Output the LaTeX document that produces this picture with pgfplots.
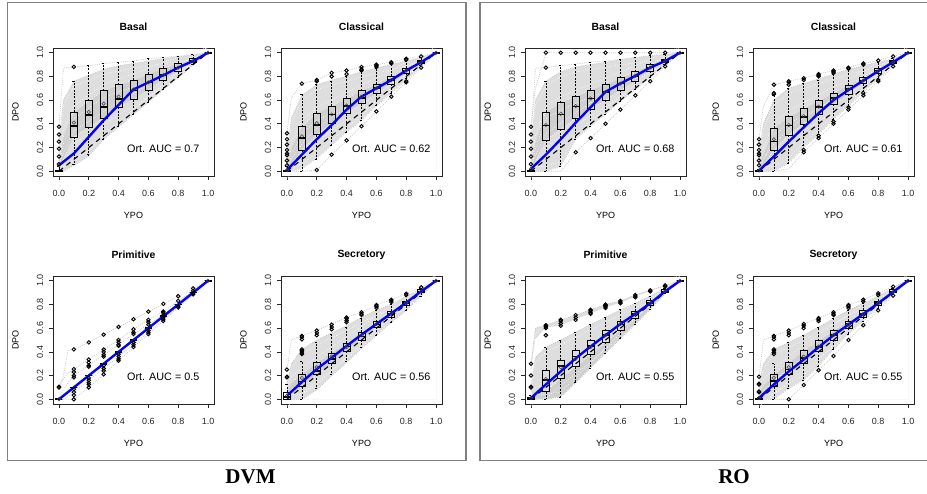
\documentclass[border=0pt]{standalone}
\usepackage{fontspec}
\setmainfont{Liberation Sans}
\newfontfamily\serifb{Liberation Serif}
\usepackage{pgfplots}
\usepackage{pgfplotstable}
\pgfplotsset{compat=1.18}
\usepgfplotslibrary{statistics}
\definecolor{corein}{gray}{0.81}
\definecolor{coreout}{gray}{0.87}
\definecolor{dotgray}{gray}{0.78}
\definecolor{framegray}{gray}{0.5}
\definecolor{rblue}{rgb}{0.02,0.02,0.92}
\newcommand\tf{\fontsize{9}{9}\selectfont}
\pgfplotsset{panel/.style={
  scale only axis,width=161pt,height=128pt,anchor=south west,clip=false,
  xmin=-0.04,xmax=1.04,ymin=-0.04,ymax=1.04,
  xtick={0,0.2,0.4,0.6,0.8,1},ytick={0,0.2,0.4,0.6,0.8,1},
  tick align=outside,xtick pos=bottom,ytick pos=left,
  major tick length=4pt,
  axis line style={line width=0.9pt,black!85},
  every tick/.style={line width=0.7pt,black!85},
  /pgf/number format/assume math mode=true,
  /pgf/number format/fixed,/pgf/number format/fixed zerofill,/pgf/number format/precision=1,
  tick label style={font=\tf,black!85},
  xticklabel style={anchor=center,yshift=-13pt},
  yticklabel style={rotate=90,anchor=center,yshift=9pt},
}}
\newcommand\bx[7]{\addplot[black,line width=0.65pt,mark=o,mark size=1.75pt,mark options={solid,line width=0.9pt},
  boxplot prepared={draw direction=y,box extend=0.047,whisker extend=0.022,
  every whisker/.style={dash pattern=on 2pt off 1.4pt,line width=0.7pt},
  every median/.style={line width=1.6pt},
  draw position=#1,lower whisker=#2,lower quartile=#3,median=#4,upper quartile=#5,upper whisker=#6}]
  coordinates {#7};}
\newcommand\core[1]{%
  \addplot[fill=coreout,draw=none,forget plot] table[x=x,y=b]{#1} \closedcycle;
  \addplot[fill=corein,draw=none,forget plot] table[x=x,y=c]{#1} \closedcycle;
  \addplot[fill=coreout,draw=none,forget plot] table[x=x,y=d]{#1} \closedcycle;
  \addplot[fill=white,draw=white,line width=0.8pt,forget plot] table[x=x,y=e]{#1} \closedcycle;}
\newcommand\coreG[1]{%
  \addplot[fill=coreout,draw=none,forget plot] table[x=x,y=a]{#1} \closedcycle;
  \addplot[fill=white,draw=white,line width=0.8pt,forget plot] table[x=x,y=c]{#1} \closedcycle;
  \addplot[fill=coreout,draw=none,forget plot] table[x=x,y=b]{#1} \closedcycle;
  \addplot[fill=corein,draw=none,forget plot] table[x=x,y=d]{#1} \closedcycle;
  \addplot[fill=white,draw=white,line width=0.8pt,forget plot] table[x=x,y=e]{#1} \closedcycle;}
\newcommand\spk[3]{\addplot[white,line width=0.55pt,dash pattern=on 0.8pt off 1.7pt,yshift=#3] table[x=x,y=#2]{#1};}
\newcommand\curves[1]{%
  \addplot[dotgray,line width=0.7pt,dash pattern=on 1pt off 1.2pt] table[x=x,y=a]{#1};
  \addplot[dotgray,line width=0.7pt,dash pattern=on 1pt off 1.2pt] table[x=x,y=b]{#1};
  \addplot[dotgray,line width=0.7pt,dash pattern=on 1pt off 1.2pt] table[x=x,y=e]{#1};
  \addplot[dotgray,line width=0.7pt,dash pattern=on 1pt off 1.2pt] table[x=x,y=f]{#1};
  \spk{#1}{b}{-5pt}\spk{#1}{c}{6pt}\spk{#1}{c}{0pt}\spk{#1}{c}{-7pt}\spk{#1}{d}{6pt}\spk{#1}{d}{0pt}\spk{#1}{d}{-7pt}\spk{#1}{e}{5pt}}
\newcommand\curvesC[1]{%
  \addplot[dotgray,line width=0.7pt,dash pattern=on 1pt off 1.2pt] table[x=x,y=a]{#1};
  \addplot[dotgray,line width=0.7pt,dash pattern=on 1pt off 1.2pt] table[x=x,y=b]{#1};
  \addplot[dotgray,line width=0.7pt,dash pattern=on 1pt off 1.2pt] table[x=x,y=c]{#1};
  \addplot[dotgray,line width=0.7pt,dash pattern=on 1pt off 1.2pt] table[x=x,y=d]{#1};
  \addplot[dotgray,line width=0.7pt,dash pattern=on 1pt off 1.2pt] table[x=x,y=e]{#1};
  \addplot[dotgray,line width=0.7pt,dash pattern=on 1pt off 1.2pt] table[x=x,y=f]{#1};}
\newcommand\finish[2]{%
  \addplot[black,line width=1.1pt,dash pattern=on 5pt off 4.5pt] coordinates {(0,0) (1,1)};
  \addplot[rblue,line width=2.4pt,line join=round] coordinates {#1};
  \addplot[only marks,mark=o,mark size=1.7pt,draw=black!75,mark options={line width=0.5pt}] coordinates {#2};}
\newcommand\labels[2]{%
  \node[font=\fontsize{10.4}{10.4}\selectfont\bfseries] at (rel axis cs:0.5,1.166) {#1};
  \node[font=\tf] at (rel axis cs:0.5,-0.305) {YPO};
  \node[font=\tf,rotate=90] at (rel axis cs:-0.232,0.5) {DPO};
  \node[font=\fontsize{10.8}{10.8}\selectfont] at (rel axis cs:0.685,0.215) {Ort. AUC = #2};}

\pgfplotstableread{
x a b c d e f
0 .375 .25 .06 0 0 0
.03 .87 .6 .3 .1 0 0
.1 .88 .76 .50 .29 .05 .05
.2 .89 .81 .595 .37 .13 .13
.3 .91 .86 .68 .45 .27 .27
.4 .92 .89 .73 .54 .375 .375
.5 .93 .91 .77 .605 .48 .48
.6 .95 .93 .82 .685 .585 .585
.7 .96 .95 .87 .77 .69 .69
.8 .97 .965 .91 .84 .79 .79
.9 .985 .98 .95 .92 .90 .90
1 1 1 1 1 1 1
}\tA
\pgfplotstableread{
x a b c d e f
0 .32 .15 .04 0 0 0
.03 .62 .45 .2 .05 0 0
.1 .74 .64 .375 .18 .02 0
.2 .77 .73 .49 .31 .11 .01
.3 .83 .77 .55 .405 .22 .14
.4 .85 .80 .615 .485 .33 .26
.5 .88 .84 .68 .57 .43 .38
.6 .90 .87 .735 .655 .55 .505
.7 .92 .90 .80 .735 .66 .63
.8 .95 .93 .87 .825 .77 .75
.9 .97 .96 .94 .91 .88 .875
1 1 1 1 1 1 1
}\tB
\pgfplotstableread{
x a b c d e f
0 .10 .10 0 0 0 0
.03 .20 .17 .08 .02 0 0
.06 .41 .22 .14 .05 .02 0
.1 .42 .255 .20 .10 .06 0
.2 .48 .335 .285 .20 .16 .10
.3 .545 .42 .375 .30 .26 .21
.4 .61 .50 .46 .40 .36 .325
.5 .675 .59 .55 .50 .46 .44
.6 .74 .67 .63 .60 .565 .55
.7 .805 .74 .71 .69 .675 .66
.8 .87 .83 .80 .785 .785 .775
.9 .935 .915 .895 .885 .885 .885
1 1 1 1 1 1 1
}\tC
\pgfplotstableread{
x a b c d e f
0 .25 .13 .06 0 0 0
.03 .50 .30 .14 .03 0 0
.1 .535 .42 .21 .105 0 0
.2 .58 .50 .31 .21 .08 .08
.3 .635 .56 .39 .30 .20 .20
.4 .69 .62 .475 .405 .31 .31
.5 .735 .69 .565 .50 .43 .43
.6 .795 .75 .655 .61 .54 .54
.7 .84 .80 .745 .69 .65 .65
.8 .89 .87 .83 .79 .75 .75
.9 .945 .93 .925 .90 .87 .87
1 1 1 1 1 1 1
}\tD
\pgfplotstableread{
x a b c d e f
0 .375 .2 .06 0 0 0
.03 .70 .60 .25 .08 0 0
.1 1 .76 .50 .265 0 0
.2 1 .84 .58 .355 .04 0
.3 1 .88 .63 .445 .27 .16
.4 1 .90 .685 .525 .38 .28
.5 1 .92 .735 .60 .48 .40
.6 1 .94 .79 .685 .59 .52
.7 1 .955 .84 .755 .69 .64
.8 1 .97 .90 .845 .79 .76
.9 1 .98 .945 .92 .90 .885
1 1 1 1 1 1 1
}\tE
\pgfplotstableread{
x a b c d e f
0 .27 .15 .05 0 0 0
.03 .55 .40 .15 .05 0 0
.1 .73 .60 .365 .18 0 0
.2 .76 .70 .46 .305 .07 .02
.3 .785 .74 .53 .40 .2 .16
.4 .82 .78 .595 .48 .31 .28
.5 .85 .82 .66 .565 .44 .40
.6 .875 .86 .725 .65 .55 .52
.7 .91 .89 .79 .74 .67 .64
.8 .935 .92 .87 .825 .78 .76
.9 .97 .95 .935 .91 .90 .885
1 1 1 1 1 1 1
}\tF
\pgfplotstableread{
x a b c d e f
0 .30 .10 .20 0 0 0
.03 .60 .35 .50 .05 0 0
.1 .625 .44 .60 .065 0 0
.2 .67 .50 .62 .175 .02 .02
.3 .71 .565 .67 .275 .14 .14
.4 .755 .63 .72 .375 .265 .265
.5 .80 .69 .77 .48 .39 .39
.6 .83 .755 .81 .585 .51 .51
.7 .88 .81 .86 .685 .635 .635
.8 .92 .87 .91 .79 .76 .76
.9 .96 .94 .95 .90 .89 .89
1 1 1 1 1 1 1
}\tG
\pgfplotstableread{
x a b c d e f
0 .19 .12 .06 0 0 0
.03 .50 .30 .12 .03 0 0
.1 .535 .42 .21 .105 0 0
.2 .58 .48 .31 .21 .09 0
.3 .635 .54 .41 .30 .16 .12
.4 .685 .61 .495 .405 .28 .245
.5 .735 .68 .58 .50 .42 .365
.6 .795 .75 .66 .60 .55 .50
.7 .84 .81 .75 .69 .66 .625
.8 .895 .87 .83 .79 .77 .75
.9 .95 .94 .93 .90 .89 .875
1 1 1 1 1 1 1
}\tH

\begin{document}
\begin{tikzpicture}
\path[use as bounding box] (0pt,0pt) rectangle (927pt,493pt);
\draw[framegray,line width=1.5pt] (7.5pt,490.5pt) -- (466pt,490.5pt) -- (466pt,32.5pt) -- (7.5pt,32.5pt) -- cycle;
\draw[framegray,line width=1.5pt] (927pt,490.5pt) -- (480pt,490.5pt) -- (480pt,32.5pt) -- (927pt,32.5pt);
\node[font=\serifb\bfseries\fontsize{21}{21}\selectfont] at (250.5pt,16.5pt) {DVM};
\node[font=\serifb\bfseries\fontsize{21}{21}\selectfont] at (734pt,16.5pt) {RO};

% DVM Basal
\begin{axis}[panel,at={(53pt,317pt)}]
\core{\tA}\curves{\tA}
\bx{0}{0}{0}{0}{.01}{.04}{(0,.06)(0,.125)(0,.19)(0,.25)(0,.31)(0,.375)}
\bx{.1}{.06}{.29}{.38}{.50}{.76}{(0,.88)}
\bx{.2}{.14}{.37}{.475}{.595}{.89}{}
\bx{.3}{.27}{.45}{.54}{.68}{.91}{}
\bx{.4}{.375}{.54}{.61}{.73}{.92}{}
\bx{.5}{.48}{.605}{.68}{.77}{.93}{}
\bx{.6}{.585}{.685}{.75}{.82}{.95}{}
\bx{.7}{.69}{.77}{.81}{.87}{.96}{}
\bx{.8}{.79}{.84}{.875}{.91}{.97}{}
\bx{.9}{.90}{.92}{.93}{.95}{.985}{}
\bx{1}{1}{1}{1}{1}{1}{}
\finish{(0,.05)(.1,.15)(.2,.29)(.3,.43)(.4,.56)(.5,.69)(.6,.75)(.7,.81)(.8,.875)(.9,.93)(1,1)}
{(0,.05)(.1,.41)(.2,.50)(.3,.57)(.4,.63)(.5,.69)(.6,.75)(.7,.81)(.8,.875)(.9,.93)(1,1)}
\labels{Basal}{0.7}
\end{axis}

% DVM Classical
\begin{axis}[panel,at={(281pt,317pt)}]
\core{\tB}\curves{\tB}
\bx{0}{0}{0}{0}{.01}{.04}{(0,.05)(0,.09)(0,.135)(0,.15)(0,.18)(0,.225)(0,.27)(0,.32)}
\bx{.1}{0}{.18}{.28}{.375}{.65}{(0,.74)}
\bx{.2}{.10}{.31}{.39}{.49}{.73}{(0,.01)(0,.76)(0,.77)}
\bx{.3}{.22}{.405}{.48}{.55}{.755}{(0,.14)(0,.80)(0,.83)}
\bx{.4}{.33}{.485}{.55}{.615}{.80}{(0,.26)(0,.82)(0,.85)}
\bx{.5}{.43}{.57}{.62}{.68}{.84}{(0,.38)(0,.85)(0,.86)(0,.88)}
\bx{.6}{.56}{.655}{.70}{.735}{.87}{(0,.505)(0,.88)(0,.89)(0,.90)}
\bx{.7}{.66}{.735}{.77}{.80}{.90}{(0,.63)(0,.91)(0,.92)}
\bx{.8}{.78}{.825}{.85}{.87}{.93}{(0,.75)(0,.76)(0,.94)(0,.95)}
\bx{.9}{.89}{.91}{.925}{.94}{.96}{(0,.875)(0,.97)}
\bx{1}{1}{1}{1}{1}{1}{}
\finish{(0,.01)(.1,.14)(.2,.27)(.3,.39)(.4,.52)(.5,.63)(.6,.70)(.7,.77)(.8,.85)(.9,.92)(1,1)}
{(0,.01)(.1,.295)(.2,.405)(.3,.48)(.4,.555)(.5,.63)(.6,.70)(.7,.77)(.8,.85)(.9,.92)(1,1)}
\labels{Classical}{0.62}
\end{axis}

% DVM Primitive
\begin{axis}[panel,at={(53pt,89pt)}]
\curvesC{\tC}
\bx{0}{0}{0}{0}{0}{0}{(0,.10)(0,.105)}
\bx{.1}{.10}{.10}{.10}{.10}{.10}{(0,.42)(0,.255)(0,.23)(0,.20)(0,.185)(0,.085)(0,.06)(0,.035)(0,0)}
\bx{.2}{.2}{.2}{.2}{.2}{.2}{(0,.48)(0,.335)(0,.31)(0,.285)(0,.275)(0,.18)(0,.16)(0,.14)(0,.125)(0,.10)}
\bx{.3}{.3}{.3}{.3}{.3}{.3}{(0,.545)(0,.42)(0,.40)(0,.375)(0,.36)(0,.285)(0,.26)(0,.24)(0,.21)}
\bx{.4}{.4}{.4}{.4}{.4}{.4}{(0,.61)(0,.50)(0,.48)(0,.46)(0,.45)(0,.38)(0,.36)(0,.34)(0,.325)}
\bx{.5}{.5}{.5}{.5}{.5}{.5}{(0,.675)(0,.59)(0,.565)(0,.55)(0,.48)(0,.46)(0,.44)}
\bx{.6}{.6}{.6}{.6}{.6}{.6}{(0,.74)(0,.67)(0,.65)(0,.63)(0,.58)(0,.565)(0,.55)}
\bx{.7}{.7}{.7}{.7}{.7}{.7}{(0,.805)(0,.74)(0,.73)(0,.71)(0,.69)(0,.675)(0,.66)}
\bx{.8}{.8}{.8}{.8}{.8}{.8}{(0,.87)(0,.83)(0,.785)(0,.775)}
\bx{.9}{.9}{.9}{.9}{.9}{.9}{(0,.935)(0,.915)(0,.895)(0,.885)}
\bx{1}{1}{1}{1}{1}{1}{}
\finish{(0,0)(.1,.10)(.2,.20)(.3,.30)(.4,.40)(.5,.50)(.6,.60)(.7,.70)(.8,.80)(.9,.90)(1,1)}
{(0,0)(1,1)}
\labels{Primitive}{0.5}
\end{axis}

% DVM Secretory
\begin{axis}[panel,at={(281pt,89pt)}]
\core{\tD}\curves{\tD}
\bx{0}{0}{0}{.02}{.06}{.13}{(0,.185)(0,.19)(0,.25)}
\bx{.1}{0}{.105}{.15}{.21}{.32}{(0,.38)(0,.39)(0,.40)(0,.41)(0,.42)(0,.505)(0,.525)(0,.535)}
\bx{.2}{.09}{.21}{.24}{.31}{.48}{(0,.54)(0,.56)(0,.58)}
\bx{.3}{.21}{.30}{.34}{.39}{.545}{(0,.59)(0,.61)(0,.63)}
\bx{.4}{.32}{.405}{.445}{.475}{.61}{(0,.65)(0,.665)(0,.68)(0,.69)}
\bx{.5}{.44}{.50}{.53}{.565}{.68}{(0,.71)(0,.72)(0,.735)}
\bx{.6}{.54}{.61}{.63}{.655}{.75}{(0,.77)(0,.785)(0,.795)}
\bx{.7}{.65}{.69}{.72}{.745}{.80}{(0,.82)(0,.83)(0,.84)}
\bx{.8}{.75}{.79}{.81}{.83}{.87}{(0,.88)(0,.89)}
\bx{.9}{.87}{.90}{.91}{.925}{.94}{(0,.945)}
\bx{1}{1}{1}{1}{1}{1}{}
\finish{(0,.03)(.1,.145)(.2,.255)(.3,.35)(.4,.45)(.5,.545)(.6,.635)(.7,.725)(.8,.815)(.9,.91)(1,1)}
{(0,.03)(.1,.18)(.2,.27)(.3,.36)(.4,.44)(.5,.54)(.6,.635)(.7,.725)(.8,.815)(.9,.91)(1,1)}
\labels{Secretory}{0.56}
\end{axis}

% RO Basal
\begin{axis}[panel,at={(525pt,317pt)}]
\core{\tE}\curves{\tE}
\addplot[dotgray,line width=0.7pt,dash pattern=on 1pt off 1.2pt] coordinates {(0,.30)(.03,.87)(.1,.875)(.2,.89)(.3,.905)(.4,.92)(.5,.93)(.6,.945)(.7,.96)(.8,.975)(.9,.985)(1,1)};
\bx{0}{0}{0}{0}{.01}{.02}{(0,.06)(0,.125)(0,.19)(0,.25)(0,.31)(0,.375)}
\bx{.1}{0}{.265}{.385}{.50}{.76}{(0,.875)(0,1)}
\bx{.2}{.04}{.355}{.48}{.58}{.89}{(0,1)}
\bx{.3}{.27}{.445}{.545}{.63}{.905}{(0,.16)(0,1)}
\bx{.4}{.38}{.525}{.615}{.685}{.92}{(0,.28)(0,1)}
\bx{.5}{.48}{.60}{.67}{.735}{.93}{(0,.40)(0,1)}
\bx{.6}{.59}{.685}{.74}{.79}{.945}{(0,.52)(0,1)}
\bx{.7}{.69}{.755}{.80}{.84}{.96}{(0,.64)(0,1)}
\bx{.8}{.79}{.845}{.875}{.90}{.975}{(0,.76)(0,1)}
\bx{.9}{.90}{.92}{.93}{.945}{.985}{(0,.885)(0,1)}
\bx{1}{1}{1}{1}{1}{1}{}
\finish{(0,.02)(.1,.14)(.2,.27)(.3,.41)(.4,.54)(.5,.67)(.6,.74)(.7,.805)(.8,.875)(.9,.93)(1,1)}
{(0,.02)(.1,.39)(.2,.485)(.3,.55)(.4,.615)(.5,.67)(.6,.74)(.7,.805)(.8,.875)(.9,.93)(1,1)}
\labels{Basal}{0.68}
\end{axis}

% RO Classical
\begin{axis}[panel,at={(753pt,317pt)}]
\core{\tF}\curves{\tF}
\bx{0}{0}{0}{0}{.01}{.02}{(0,.05)(0,.09)(0,.135)(0,.15)(0,.18)(0,.225)(0,.27)}
\bx{.1}{0}{.18}{.25}{.365}{.64}{(0,.65)(0,.66)(0,.73)}
\bx{.2}{.07}{.305}{.385}{.46}{.70}{(0,.73)(0,.75)(0,.76)}
\bx{.3}{.22}{.40}{.46}{.53}{.74}{(0,.16)(0,.18)(0,.77)(0,.785)}
\bx{.4}{.31}{.48}{.54}{.595}{.77}{(0,.28)(0,.30)(0,.80)(0,.81)(0,.82)}
\bx{.5}{.44}{.565}{.62}{.66}{.82}{(0,.40)(0,.42)(0,.83)(0,.84)(0,.85)}
\bx{.6}{.55}{.65}{.695}{.725}{.86}{(0,.52)(0,.54)(0,.865)(0,.875)}
\bx{.7}{.67}{.74}{.765}{.79}{.89}{(0,.64)(0,.66)(0,.90)(0,.91)}
\bx{.8}{.78}{.825}{.85}{.87}{.92}{(0,.76)(0,.77)(0,.935)}
\bx{.9}{.90}{.91}{.92}{.935}{.95}{(0,.885)(0,.97)}
\bx{1}{1}{1}{1}{1}{1}{}
\finish{(0,.005)(.1,.125)(.2,.25)(.3,.37)(.4,.49)(.5,.60)(.6,.685)(.7,.765)(.8,.845)(.9,.92)(1,1)}
{(0,.005)(.1,.27)(.2,.39)(.3,.465)(.4,.545)(.5,.61)(.6,.69)(.7,.765)(.8,.845)(.9,.92)(1,1)}
\labels{Classical}{0.61}
\end{axis}

% RO Primitive
\begin{axis}[panel,at={(525pt,89pt)}]
\coreG{\tG}\curves{\tG}
\bx{0}{0}{0}{0}{.02}{.03}{(0,.10)(0,.105)(0,.20)(0,.30)}
\bx{.1}{0}{.065}{.165}{.245}{.435}{(0,.54)(0,.60)(0,.61)(0,.62)(0,.625)}
\bx{.2}{.02}{.175}{.28}{.33}{.50}{(0,.62)(0,.64)(0,.66)(0,.67)}
\bx{.3}{.14}{.275}{.36}{.415}{.565}{(0,.67)(0,.69)(0,.71)}
\bx{.4}{.265}{.375}{.45}{.495}{.63}{(0,.72)(0,.73)(0,.745)(0,.755)}
\bx{.5}{.39}{.48}{.54}{.58}{.69}{(0,.77)(0,.78)(0,.79)(0,.80)}
\bx{.6}{.51}{.585}{.63}{.66}{.755}{(0,.81)(0,.82)(0,.83)}
\bx{.7}{.635}{.685}{.72}{.745}{.81}{(0,.86)(0,.87)(0,.88)}
\bx{.8}{.76}{.79}{.81}{.835}{.87}{(0,.91)(0,.92)}
\bx{.9}{.89}{.90}{.91}{.925}{.94}{(0,.95)(0,.96)}
\bx{1}{1}{1}{1}{1}{1}{}
\finish{(0,.01)(.1,.125)(.2,.235)(.3,.345)(.4,.445)(.5,.54)(.6,.635)(.7,.72)(.8,.81)(.9,.91)(1,1)}
{(0,.01)(.1,.17)(.2,.27)(.3,.34)(.4,.44)(.5,.54)(.6,.635)(.7,.72)(.8,.81)(.9,.91)(1,1)}
\labels{Primitive}{0.55}
\end{axis}

% RO Secretory
\begin{axis}[panel,at={(753pt,89pt)}]
\core{\tH}\curves{\tH}
\bx{0}{0}{0}{0}{.01}{.02}{(0,.06)(0,.065)(0,.125)(0,.13)(0,.19)}
\bx{.1}{0}{.105}{.155}{.21}{.30}{(0,.38)(0,.395)(0,.41)(0,.42)(0,.505)(0,.525)(0,.535)}
\bx{.2}{.09}{.21}{.25}{.31}{.48}{(0,0)(0,.54)(0,.56)(0,.58)}
\bx{.3}{.16}{.30}{.35}{.41}{.54}{(0,.12)(0,.60)(0,.62)(0,.635)}
\bx{.4}{.28}{.405}{.44}{.495}{.61}{(0,.245)(0,.66)(0,.675)(0,.685)}
\bx{.5}{.42}{.50}{.54}{.58}{.68}{(0,.365)(0,.71)(0,.72)(0,.735)}
\bx{.6}{.55}{.60}{.64}{.66}{.75}{(0,.50)(0,.77)(0,.785)(0,.795)}
\bx{.7}{.66}{.69}{.72}{.75}{.81}{(0,.625)(0,.825)(0,.84)}
\bx{.8}{.77}{.79}{.81}{.83}{.87}{(0,.75)(0,.88)(0,.895)}
\bx{.9}{.89}{.90}{.91}{.93}{.94}{(0,.875)(0,.95)}
\bx{1}{1}{1}{1}{1}{1}{}
\finish{(0,.01)(.1,.125)(.2,.235)(.3,.335)(.4,.44)(.5,.54)(.6,.63)(.7,.72)(.8,.81)(.9,.905)(1,1)}
{(0,.01)(.1,.18)(.2,.27)(.3,.36)(.4,.445)(.5,.54)(.6,.63)(.7,.72)(.8,.81)(.9,.905)(1,1)}
\labels{Secretory}{0.55}
\end{axis}
\end{tikzpicture}
\end{document}
